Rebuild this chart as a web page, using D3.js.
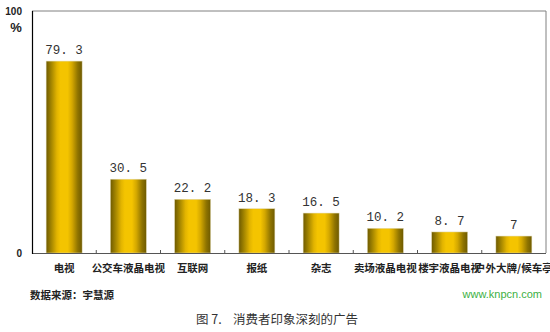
<!DOCTYPE html>
<html><head><meta charset="utf-8">
<script src="https://cdn.jsdelivr.net/npm/d3@7"></script>
<style>body{margin:0;background:#fff}svg{display:block}</style>
</head><body>
<script>
const categories = ["电视","公交车液晶电视","互联网","报纸","杂志","卖场液晶电视","楼宇液晶电视","户外大牌/候车亭"];
const values = [79.3, 30.5, 22.2, 18.3, 16.5, 10.2, 8.7, 7];
const valueLabels = ["79. 3","30. 5","22. 2","18. 3","16. 5","10. 2","8. 7","7"];
const yTicks = [0, 100];
const source = "数据来源：宇慧源";
const site = "www.knpcn.com";
const caption = "图 7.\u00a0\u00a0\u00a0\u00a0消费者印象深刻的广告";

const W = 550, H = 332;
const m = {left: 32, right: 546, top: 11, bottom: 253};
const svg = d3.select("body").append("svg").attr("width", W).attr("height", H);

const defs = svg.append("defs");
const g = defs.append("linearGradient").attr("id","bar").attr("x1","0").attr("x2","1").attr("y1","0").attr("y2","0");
[[0,"#6e5a00"],[0.12,"#9a7e00"],[0.3,"#e2b400"],[0.4,"#f4c400"],[0.6,"#f4c400"],[0.72,"#d4a800"],[0.88,"#8e7300"],[1,"#6e5a00"]]
  .forEach(([o,c]) => g.append("stop").attr("offset",o).attr("stop-color",c));

const x = d3.scaleBand().domain(categories).range([m.left, m.right]).paddingInner(0.44).paddingOuter(0.22);
const xb = d3.scaleBand().domain(categories).range([m.left, m.right]);
const y = d3.scaleLinear().domain([0, 100]).range([m.bottom, m.top]);

// frame
svg.append("line").attr("x1",m.left).attr("x2",m.right).attr("y1",m.top).attr("y2",m.top).attr("stroke","#808080");
svg.append("line").attr("x1",m.right).attr("x2",m.right).attr("y1",m.top).attr("y2",m.bottom).attr("stroke","#808080");

// bars
svg.selectAll("rect.bar").data(values).join("rect").attr("class","bar")
  .attr("x",(d,i)=>x(categories[i])).attr("width",x.bandwidth())
  .attr("y",d=>y(d)).attr("height",d=>y(0)-y(d))
  .attr("fill","url(#bar)").attr("stroke","#e0d8b0").attr("stroke-width",0.5);

// x axis
svg.append("line").attr("x1",m.left).attr("x2",m.right).attr("y1",m.bottom+0.5).attr("y2",m.bottom+0.5)
  .attr("stroke","#555").attr("stroke-width",1.2);
svg.selectAll("line.tick").data(categories.slice(1)).join("line").attr("class","tick")
  .attr("x1",d=>xb(d)).attr("x2",d=>xb(d)).attr("y1",m.bottom).attr("y2",m.bottom-3).attr("stroke","#555");
// y axis
svg.append("line").attr("x1",m.left+0.5).attr("x2",m.left+0.5).attr("y1",m.top).attr("y2",m.bottom+1).attr("stroke","#000").attr("stroke-width",1.2);

// y labels
svg.selectAll("text.yt").data(yTicks).join("text").attr("class","yt")
  .attr("x",22).attr("y",d=>y(d)+4).attr("text-anchor","end")
  .attr("font-family","Liberation Sans, Arial").attr("font-weight","bold").attr("font-size",10).attr("fill","#222")
  .text(d=>d);
svg.append("text").attr("x",16).attr("y",32).attr("text-anchor","middle")
  .attr("font-family","Liberation Sans, Arial").attr("font-weight","bold").attr("font-size",13).attr("fill","#222").text("%");

// value labels
svg.selectAll("text.val").data(values).join("text").attr("class","val")
  .attr("x",(d,i)=>x(categories[i])+x.bandwidth()/2).attr("y",d=>y(d)-7).attr("text-anchor","middle")
  .attr("font-family","Liberation Mono, monospace").attr("font-size",12.5).attr("fill","#333")
  .text((d,i)=>valueLabels[i]);

// category labels
svg.selectAll("text.cat").data(categories).join("text").attr("class","cat")
  .attr("x",d=>xb(d)+xb.bandwidth()/2).attr("y",272).attr("text-anchor","middle")
  .attr("font-family","Noto Sans CJK SC").attr("font-size",10.5).attr("font-weight","bold").attr("fill","#222")
  .text(d=>d);

svg.append("text").attr("x",30).attr("y",299).attr("font-family","Noto Sans CJK SC").attr("font-size",10.5)
  .attr("font-weight","bold").attr("fill","#222").text(source);
svg.append("text").attr("x",542).attr("y",298).attr("text-anchor","end").attr("font-family","Liberation Sans, Arial")
  .attr("font-size",11).attr("fill","#3cb043").text(site);
svg.append("text").attr("x",277).attr("y",324).attr("text-anchor","middle").attr("font-family","Noto Sans CJK SC")
  .attr("font-size",12.5).attr("fill","#333").text(caption);
</script>
</body></html>
